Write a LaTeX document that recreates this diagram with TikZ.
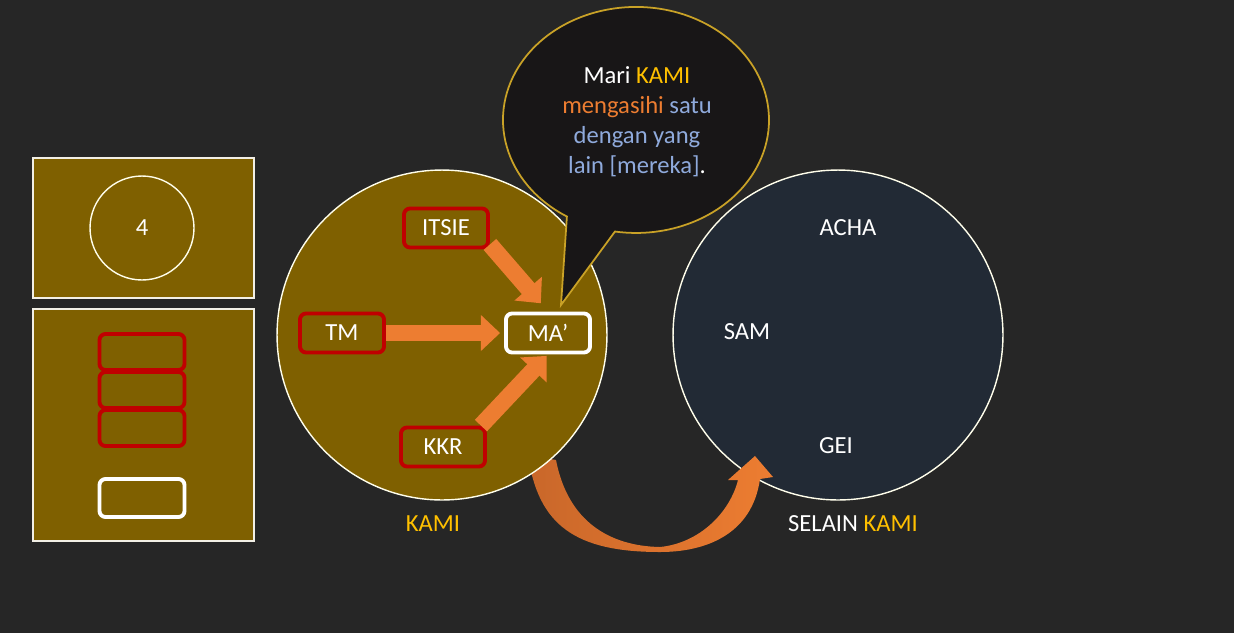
\documentclass[tikz,border=0pt]{standalone}
\usepackage{fontspec}
\setmainfont{Carlito}
\usetikzlibrary{arrows.meta}
\definecolor{bgdark}{HTML}{262626}
\definecolor{olive}{HTML}{7F6000}
\definecolor{navy}{HTML}{222A35}
\definecolor{bubblefill}{HTML}{181617}
\definecolor{bubbleline}{HTML}{C9A227}
\definecolor{flowor}{HTML}{ED7D31}
\definecolor{flowdark}{HTML}{C9672A}
\definecolor{kamigold}{HTML}{FFC000}
\definecolor{softblue}{HTML}{8FAADC}
\definecolor{boxred}{HTML}{C00000}
\begin{document}
\begin{tikzpicture}[x=0.02cm, y=-0.02cm,
        every node/.style={font=\fontsize{14}{17}\selectfont, text=white},
        panel/.style={fill=olive, draw=white!90!olive, line width=0.8pt},
        group/.style={circle, draw=white!92!yellow, line width=0.8pt, minimum size=6.6cm, inner sep=0pt},
        redbox/.style={draw=boxred, line width=2.2pt, rounded corners=0.12cm, minimum width=1.68cm, minimum height=0.78cm},
        whitebox/.style={redbox, draw=white},
        flow/.style={draw=flowor, line width=9.5pt, -{Triangle[length=11pt,width=20pt]}}
    ]
        \useasboundingbox (0,0) rectangle (1234,633);
        \fill[bgdark] (0,0) rectangle (1234,633);

        % legend on the left
        \draw[panel] (33,158) rectangle (254,298);
        \draw[panel] (33,309) rectangle (254,541);
        \node[circle, draw=white!92!yellow, line width=0.8pt, minimum size=2.08cm] (four) at (142,228) {4};
        \node[redbox, minimum width=1.7cm, minimum height=0.72cm] (stacka) at (142,352) {};
        \node[redbox, minimum width=1.7cm, minimum height=0.72cm] (stackb) at (142,390) {};
        \node[redbox, minimum width=1.7cm, minimum height=0.72cm] (stackc) at (142,428) {};
        \node[whitebox, minimum width=1.7cm, minimum height=0.76cm] (slot) at (142,498) {};

        % the two groups
        \node[group, fill=navy] (selain) at (838,335) {};

        % from KAMI to the others
        \shade[left color=flowdark, right color=flowor]
            (528,455) .. controls (538,525) and (575,552) .. (660,552)
            .. controls (705,552) and (752,535) .. (760,479)
            -- (773,477) -- (755,456) -- (728,480) -- (738,480)
            .. controls (730,512) and (700,543) .. (660,547)
            .. controls (610,546) and (568,522) .. (556,460) -- cycle;

        \node[group, fill=olive] (kami) at (442,335) {};

        \node (acha) at (848,228) {ACHA};
        \node (sam) at (747,332) {SAM};
        \node (gei) at (836,446) {GEI};

        \node (kamilabel) at (433,524) {\textcolor{kamigold}{KAMI}};
        \node (selainlabel) at (853,524) {SELAIN \textcolor{kamigold}{KAMI}};

        \node[redbox] (itsie) at (446,228) {ITSIE};
        \node[redbox] (tm) at (342,333) {TM};
        \node[redbox] (kkr) at (443,447) {KKR};
        \node[whitebox] (ma) at (548,333) {MA’};

        \draw[flow, shorten >=0.22cm] ([yshift=0.1cm]itsie.south east) -- (ma.north);
        \draw[flow, shorten >=0.08cm] (tm.east) -- (ma.west);
        \draw[flow, shorten >=0.04cm] ([xshift=-0.12cm]kkr.north east) -- (ma.south);

        % speech bubble
        \coordinate (tailtip) at (561,305);
        \draw[fill=bubblefill, draw=bubbleline, line width=1pt]
            (tailtip) -- (566.9,216.5)
            arc[start angle=121.3, end angle=459.1, x radius=133, y radius=113] -- cycle;
        \node[align=center] (motto) at (637,122)
            {Mari \textcolor{kamigold}{KAMI}\\
             \textcolor{flowor}{mengasihi} \textcolor{softblue}{satu}\\
             \textcolor{softblue}{dengan yang}\\
             \textcolor{softblue}{lain [mereka]}.};
    \end{tikzpicture}
\end{document}
